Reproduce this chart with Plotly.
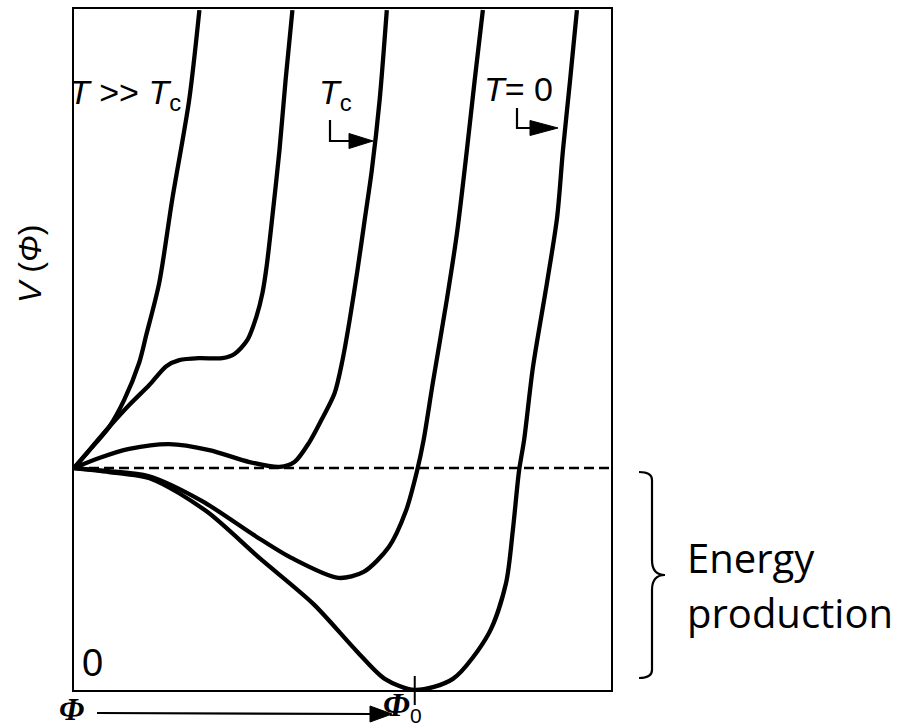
import plotly.graph_objects as go

# Effective potential V(phi) at decreasing temperatures.
# phi in units of phi0 (vacuum expectation value at T = 0),
# V in units of V(0); V = 0 at the bottom of the T = 0 well.

phi_hot = [0, 0.059, 0.103, 0.147, 0.191, 0.212, 0.25, 0.288, 0.338, 0.368]
v_hot = [1.0, 1.104, 1.185, 1.306, 1.473, 1.599, 1.833, 2.207, 2.658, 3.063]

phi_warm = [0, 0.05, 0.103, 0.162, 0.221, 0.271, 0.309, 0.368, 0.435, 0.471,
            0.509, 0.535, 0.553, 0.565, 0.582, 0.603, 0.621, 0.641]
v_warm = [1.0, 1.09, 1.185, 1.284, 1.374, 1.459, 1.486, 1.495, 1.495, 1.514,
          1.577, 1.68, 1.788, 1.905, 2.131, 2.432, 2.748, 3.063]

phi_crit = [0, 0.074, 0.162, 0.279, 0.397, 0.515, 0.603, 0.647, 0.691, 0.726,
            0.765, 0.788, 0.809, 0.832, 0.853, 0.874, 0.897, 0.918]
v_crit = [1.0, 1.045, 1.086, 1.108, 1.081, 1.027, 1.005, 1.027, 1.117, 1.216,
          1.338, 1.486, 1.667, 1.892, 2.117, 2.342, 2.658, 3.063]

phi_cool = [0, 0.103, 0.218, 0.376, 0.532, 0.638, 0.776, 0.85, 0.924, 0.974,
            1.006, 1.026, 1.053, 1.094, 1.124, 1.153, 1.176, 1.2]
v_cool = [1.0, 0.986, 0.964, 0.851, 0.694, 0.595, 0.505, 0.532, 0.644, 0.806,
          0.982, 1.126, 1.383, 1.757, 2.059, 2.432, 2.748, 3.063]

phi_zero = [0, 0.103, 0.229, 0.388, 0.544, 0.703, 0.829, 0.912, 1.0, 1.112,
            1.218, 1.268, 1.288, 1.306, 1.321, 1.347, 1.388, 1.418, 1.435,
            1.456, 1.476]
v_zero = [1.0, 0.982, 0.95, 0.806, 0.595, 0.387, 0.176, 0.05, 0.0, 0.05,
          0.257, 0.482, 0.721, 0.986, 1.126, 1.455, 1.833, 2.131, 2.432,
          2.748, 3.063]

v_false = 1.0      # V(0), the symmetric-phase level
phi0 = 1.0         # true vacuum position
phi_max = 1.576
v_max = 3.068

W, H = 903, 728


def p(x, y):
    """Pixel position on the page -> paper coordinates."""
    return x / W, 1 - y / H


def path(points, close=False):
    parts = []
    for i, (x, y) in enumerate(points):
        px_, py_ = p(x, y)
        parts.append(("M" if i == 0 else "L") + f"{px_:.5f},{py_:.5f}")
    return " ".join(parts) + (" Z" if close else "")


fig = go.Figure()

curve_style = dict(color="black", width=4.3, shape="spline", smoothing=0.8)
for xs, ys in [(phi_hot, v_hot), (phi_warm, v_warm), (phi_crit, v_crit),
               (phi_cool, v_cool), (phi_zero, v_zero)]:
    fig.add_trace(go.Scatter(x=xs, y=ys, mode="lines", line=curve_style,
                             hoverinfo="skip", showlegend=False))

# false-vacuum level
fig.add_trace(go.Scatter(x=[0, phi_max], y=[v_false, v_false], mode="lines",
                         line=dict(color="black", width=2.6, dash="10px,5px"),
                         hoverinfo="skip", showlegend=False))

fig.update_layout(
    width=W, height=H,
    margin=dict(l=0, r=0, t=0, b=0),
    paper_bgcolor="white", plot_bgcolor="white",
    xaxis=dict(domain=[74 / W, 611 / W], range=[0, phi_max],
               showgrid=False, zeroline=False, showticklabels=False,
               ticks="", showline=True, mirror=True,
               linecolor="black", linewidth=2),
    yaxis=dict(domain=[1 - 690 / H, 1 - 9 / H], range=[0, v_max],
               showgrid=False, zeroline=False, showticklabels=False,
               ticks="", showline=True, mirror=True,
               linecolor="black", linewidth=2),
)

sans = "Liberation Sans, Arial, sans-serif"
serif = "Liberation Serif, Times New Roman, serif"


def label(text, x, y, size, family=sans, xanchor="left", yanchor="middle",
          angle=0):
    px_, py_ = p(x, y)
    fig.add_annotation(x=px_, y=py_, xref="paper", yref="paper", text=text,
                       showarrow=False, xanchor=xanchor, yanchor=yanchor,
                       textangle=angle, borderpad=0,
                       font=dict(family=family, size=size, color="black"))


label("<i>T</i> >> <i>T</i><sub>c</sub>", 68, 95, 34)
label("<i>T</i><sub>c</sub>", 318, 95, 34)
label("<i>T</i>= 0", 483, 89, 34)
label("0", 92, 663, 38, xanchor="center")
label("<i>V</i> (<i>Φ</i>)", 30, 264, 32, angle=-90, xanchor="center")
label("<b><i>Φ</i></b>", 71, 709, 32, family=serif, xanchor="center")
label("<b><i>Φ</i></b>", 396, 704, 34, family=serif, xanchor="center")
label("0", 416, 715, 21, xanchor="center")
label("Energy", 686, 557, 40, family="Open Sans, sans-serif")
label("production", 686, 612, 40, family="Open Sans, sans-serif")

line_style = dict(color="black", width=2.2)

# L-shaped pointers under the temperature labels
for (vx, vy0, vy1, tip, hw, hl) in [(330, 120, 141, 373, 7.5, 24),
                                    (517, 108, 128, 558, 7.5, 28)]:
    fig.add_shape(type="path", xref="paper", yref="paper",
                  path=path([(vx, vy0), (vx, vy1), (tip - hl, vy1)]),
                  line=line_style)
    fig.add_shape(type="path", xref="paper", yref="paper",
                  path=path([(tip - hl, vy1 - hw), (tip, vy1),
                             (tip - hl, vy1 + hw)], close=True),
                  line=dict(color="black", width=1), fillcolor="black")

# phi axis arrow
fig.add_shape(type="path", xref="paper", yref="paper",
              path=path([(97, 713), (372, 714)]), line=line_style)
fig.add_shape(type="path", xref="paper", yref="paper",
              path=path([(370, 706), (392, 714), (370, 722)], close=True),
              line=dict(color="black", width=1), fillcolor="black")

# tick marking phi0
fig.add_shape(type="line", xref="x", yref="paper", x0=phi0, x1=phi0,
              y0=1 - 705 / H, y1=1 - 676 / H, line=dict(color="black", width=2))

# curly brace spanning the energy released
pts = {k: p(*v) for k, v in {
    "a": (639, 472), "b": (652, 480), "c": (652, 560),
    "m": (665, 575), "f": (652, 590), "g": (652, 670),
    "h": (639, 678), "c1": (652, 472), "c2": (652, 575), "c3": (652, 678)}.items()}


def f(k):
    return f"{pts[k][0]:.5f},{pts[k][1]:.5f}"


brace = (f"M{f('a')} Q{f('c1')} {f('b')} L{f('c')} Q{f('c2')} {f('m')} "
         f"Q{f('c2')} {f('f')} L{f('g')} Q{f('c3')} {f('h')}")
fig.add_shape(type="path", xref="paper", yref="paper", path=brace,
              line=dict(color="black", width=2.2))

fig.write_html("out.html")
